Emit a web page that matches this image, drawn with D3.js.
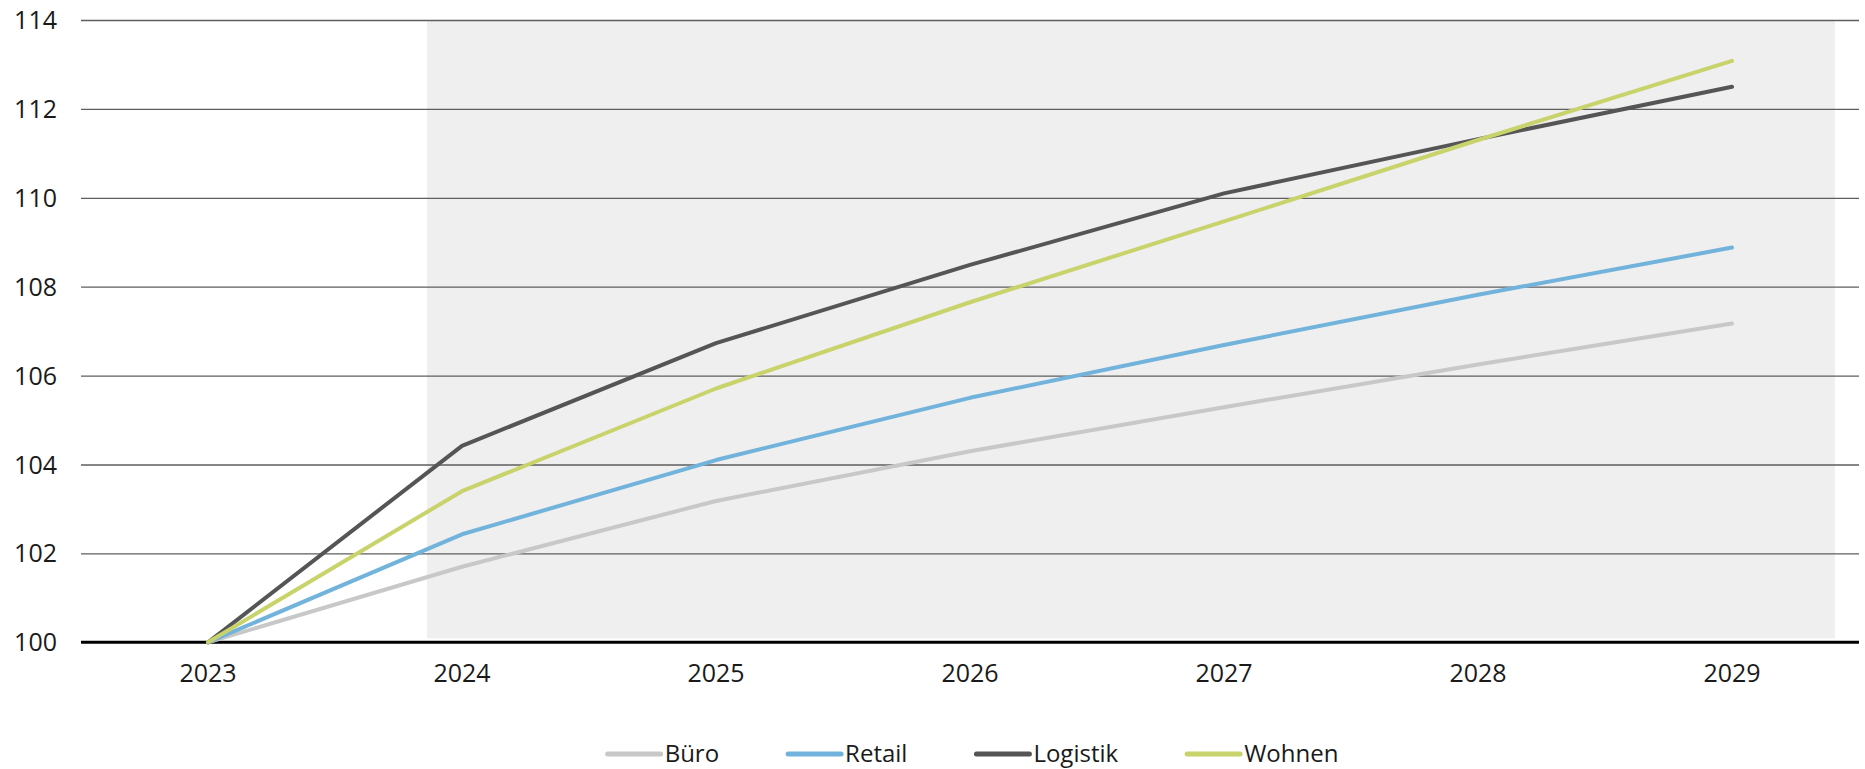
<!DOCTYPE html>
<html lang="de">
<head>
<meta charset="utf-8">
<script src="https://cdn.jsdelivr.net/npm/d3@7"></script>
<style>
  html, body { margin: 0; padding: 0; background: #ffffff; }
  svg { display: block; font-family: "Open Sans", "Noto Sans", sans-serif; }
</style>
</head>
<body>
<svg id="chart" width="1865" height="769"></svg>
<script>
// Index values, 2023 = 100
const years = ["2023", "2024", "2025", "2026", "2027", "2028", "2029"];
const bueroValues    = [100, 101.70, 103.18, 104.30, 105.29, 106.25, 107.17];
const retailValues   = [100, 102.43, 104.10, 105.50, 106.69, 107.82, 108.88];
const logistikValues = [100, 104.42, 106.73, 108.49, 110.10, 111.32, 112.50];
const wohnenValues   = [100, 103.40, 105.71, 107.65, 109.47, 111.30, 113.08];
const seriesNames  = ["Büro", "Retail", "Logistik", "Wohnen"];
const seriesColors = ["#c8c8c8", "#72b3dc", "#555555", "#c9d36b"];
const yTicks = [100, 102, 104, 106, 108, 110, 112, 114];
// Forecast period shading, in year-index units
const forecastFrom = 0.862;
const forecastTo = 6.405;

const series = [bueroValues, retailValues, logistikValues, wohnenValues].map((vals, i) => ({
  name: seriesNames[i],
  color: seriesColors[i],
  values: vals
}));

const svg = d3.select("#chart");
const plotLeft = 81, plotRight = 1859, plotTop = 20, plotBottom = 642.3;

const x = d3.scaleBand().domain(years).range([plotLeft, plotRight]).padding(0);
const xc = d => x(d) + x.bandwidth() / 2;
const xIdx = d3.scaleLinear().domain([0, years.length - 1]).range([xc(years[0]), xc(years[years.length - 1])]);
const y = d3.scaleLinear().domain([100, 114]).range([plotBottom, plotTop]);

// Forecast background
svg.append("rect")
  .attr("x", xIdx(forecastFrom))
  .attr("y", y(114))
  .attr("width", xIdx(forecastTo) - xIdx(forecastFrom))
  .attr("height", y(100) - 4 - y(114))
  .attr("fill", "#efefef");

// Horizontal gridlines
const yAxis = d3.axisLeft(y).tickValues(yTicks).tickSize(-(plotRight - plotLeft)).tickFormat(d3.format("d"));
const gy = svg.append("g").attr("transform", `translate(${plotLeft},0)`).call(yAxis);
gy.select(".domain").remove();
gy.selectAll(".tick line")
  .attr("stroke", "#5e5e5e")
  .attr("stroke-width", 1.3);
gy.selectAll(".tick text")
  .attr("x", -24)
  .attr("dy", "0.34em")
  .attr("fill", "#1a1a1a")
  .style("font-size", "25px")
  .style("font-family", "'Open Sans', 'Noto Sans', sans-serif");
gy.selectAll(".tick").filter(d => d === 100).select("line").attr("stroke", "none");

// Baseline at 100
svg.append("line")
  .attr("x1", plotLeft).attr("x2", plotRight)
  .attr("y1", y(100)).attr("y2", y(100))
  .attr("stroke", "#000000")
  .attr("stroke-width", 3);

// Category axis labels
const xAxis = d3.axisBottom(x).tickSize(0);
const gx = svg.append("g").attr("transform", `translate(0,${y(100)})`).call(xAxis);
gx.select(".domain").remove();
gx.selectAll(".tick text")
  .attr("y", 40)
  .attr("dy", "0")
  .attr("fill", "#1a1a1a")
  .style("font-size", "25px")
  .style("font-family", "'Open Sans', 'Noto Sans', sans-serif");

// Series lines
const line = d3.line()
  .x((d, i) => xc(years[i]))
  .y(d => y(d));

svg.append("g").selectAll("path")
  .data(series)
  .join("path")
  .attr("d", d => line(d.values))
  .attr("fill", "none")
  .attr("stroke", d => d.color)
  .attr("stroke-width", 4)
  .attr("stroke-linecap", "round")
  .attr("stroke-linejoin", "round");

// Legend
const legend = svg.append("g");
const swatchLen = 53, swatchGap = 4, itemGap = 69, legendY = 754;
let cursor = 0;
series.forEach(s => {
  const g = legend.append("g").attr("transform", `translate(${cursor},0)`);
  g.append("line")
    .attr("x1", 0).attr("x2", swatchLen)
    .attr("y1", legendY).attr("y2", legendY)
    .attr("stroke", s.color)
    .attr("stroke-width", 5)
    .attr("stroke-linecap", "round");
  const t = g.append("text")
    .attr("x", swatchLen + swatchGap)
    .attr("y", legendY)
    .attr("dy", "0.35em")
    .attr("fill", "#1a1a1a")
    .style("font-size", "24px")
    .text(s.name);
  cursor += swatchLen + swatchGap + t.node().getComputedTextLength() + itemGap;
});
const legendWidth = cursor - itemGap;
legend.attr("transform", `translate(${(plotLeft + plotRight) / 2 - legendWidth / 2 + 3},0)`);
</script>
</body>
</html>
